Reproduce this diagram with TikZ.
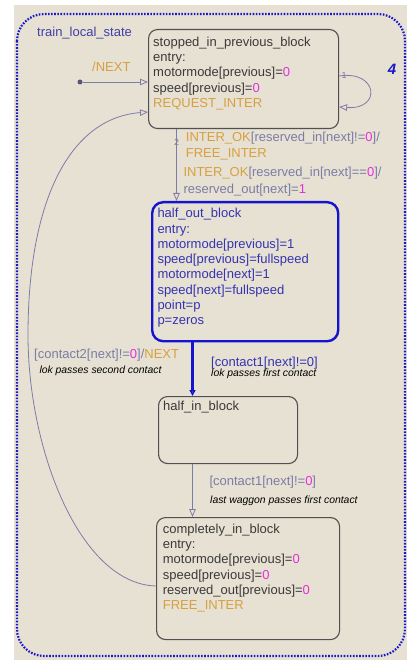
\documentclass[tikz,border=0pt]{standalone}
\usepackage{fontspec}
\setmainfont{Liberation Sans}
\usetikzlibrary{arrows.meta,calc}

\definecolor{chartbg}{RGB}{231,225,211}
\definecolor{boxline}{RGB}{80,80,80}
\definecolor{statetxt}{RGB}{58,58,58}
\definecolor{actorange}{RGB}{214,160,64}
\definecolor{valmag}{RGB}{228,48,220}
\definecolor{activeblue}{RGB}{20,20,208}
\definecolor{activetxt}{RGB}{52,52,176}
\definecolor{transcol}{RGB}{124,124,166}
\definecolor{chartblue}{RGB}{64,64,168}
\definecolor{dotblue}{RGB}{24,24,200}

\def\val#1{\textcolor{valmag}{#1}}
\def\act#1{\textcolor{actorange}{#1}}

\tikzset{
  statebox/.style={draw=boxline, line width=1.1pt, rounded corners=9pt, anchor=north west, inner sep=0pt},
  activebox/.style={statebox, draw=activeblue, line width=2.4pt, rounded corners=11pt},
  entry/.style={anchor=north west, inner sep=0pt, align=left, text=statetxt, font=\fontsize{13}{15.25}\selectfont},
  trans/.style={draw=transcol, line width=0.8pt, -{Triangle[open,length=8pt,width=6.5pt]}},
  guard/.style={anchor=base west, inner sep=0pt, text=transcol, font=\fontsize{13}{15}\selectfont},
  note/.style={anchor=base west, inner sep=0pt, text=black, font=\fontsize{10.4}{12}\selectfont\itshape},
  tag/.style={inner sep=0pt, text=transcol, font=\fontsize{9}{10}\selectfont}
}

\begin{document}
\begin{tikzpicture}[x=1pt,y=-1pt]
		%%%%% START %%%%%
		\useasboundingbox (0,0) rectangle (407,660);
		\fill[chartbg] (14,5) rectangle (407,660);
		\draw[dotblue, line width=2.2pt, dash pattern=on 1.6pt off 1.5pt, rounded corners=27pt] (17,14) rectangle (405,656);
		
		\node[guard, text=chartblue] (chartname) at (37,37) {train\_local\_state};
		\node[text=dotblue, inner sep=0pt, font=\fontsize{15}{16}\selectfont\bfseries\itshape] (chartno) at (392,69) {4};
		
		% states
		\node[statebox, minimum width=190pt, minimum height=99pt] (stopped) at (148,29) {};
		\node[entry] (stoppedtxt) at (153,36.7) {stopped\_in\_previous\_block\\entry:\\motormode[previous]=\val{0}\\speed[previous]=\val{0}\\\act{REQUEST\_INTER}};
		
		\node[activebox, minimum width=186pt, minimum height=139pt] (halfout) at (151,201) {};
		\node[entry, text=activetxt] (halfouttxt) at (157.3,208.2) {half\_out\_block\\entry:\\motormode[previous]=1\\speed[previous]=fullspeed\\motormode[next]=1\\speed[next]=fullspeed\\point=p\\p=zeros};
		
		\node[statebox, minimum width=139pt, minimum height=67pt] (halfin) at (158,396) {};
		\node[entry] (halfintxt) at (163,400.7) {half\_in\_block};
		
		\node[statebox, minimum width=183pt, minimum height=122pt] (completely) at (156,517) {};
		\node[entry] (completelytxt) at (162.7,523.7) {completely\_in\_block\\entry:\\motormode[previous]=\val{0}\\speed[previous]=\val{0}\\reserved\_out[previous]=\val{0}\\\act{FREE\_INTER}};
		
		% default transition
		\node[circle, fill=transcol!70!black, inner sep=0pt, minimum size=5pt] (initdot) at (80,82) {};
		\draw[trans] (initdot) -- (initdot -| stopped.west);
		\node[guard, text=actorange] (initlbl) at (92,71.7) {/NEXT};
		
		% self loop
		\draw[trans] ($(stopped.north east)+(0,47)$) .. controls (378,70) and (382,110) .. ($(stopped.north east)+(0,78)$);
		\node[tag] (looptag) at (344,75) {1};
		
		% stopped -> half_out
		\coordinate (colA) at (176.5,0);
		\draw[trans] (stopped.south -| colA) -- (halfout.north -| colA);
		\node[tag] (downtag) at (176.5,142) {2};
		\node[guard] (interA) at (185.7,141.7) {\act{INTER\_OK}[reserved\_in[next]!=\val{0}]/};
		\node[guard] (interB) at (185.7,157.7) {\act{FREE\_INTER}};
		\node[guard] (interC) at (183.3,176.7) {\act{INTER\_OK}[reserved\_in[next]==\val{0}]/};
		\node[guard] (interD) at (183.3,193.3) {reserved\_out[next]=\val{1}};
		
		% half_out -> half_in
		\coordinate (colB) at (192.5,0);
		\draw[activeblue, line width=2.5pt, -{Triangle[open,length=6pt,width=6pt]}] (halfout.south -| colB) -- (halfin.north -| colB);
		\node[guard, text=activetxt] (lokA) at (211,366.7) {[contact1[next]!=0]};
		\node[note] (lokAnote) at (211,376.7) {lok passes first contact};
		
		% half_in -> completely
		\draw[trans] (halfin.south -| colB) -- (completely.north -| colB);
		\node[guard] (wagA) at (209.3,485) {[contact1[next]!=\val{0}]};
		\node[note] (wagAnote) at (210,503.3) {last waggon passes first contact};
		
		% completely -> stopped
		\draw[trans] ($(completely.north west)+(0,69)$) .. controls (80,584) and (28,450) .. (28,335) .. controls (28,200) and (70,118) .. ($(stopped.north west)+(0,83)$);
		\node[guard] (lokB) at (34,358.3) {[contact2[next]!=\val{0}]/\act{NEXT}};
		\node[note] (lokBnote) at (39.3,373.3) {lok passes second contact};
		%%%%% END %%%%%
\end{tikzpicture}
\end{document}
